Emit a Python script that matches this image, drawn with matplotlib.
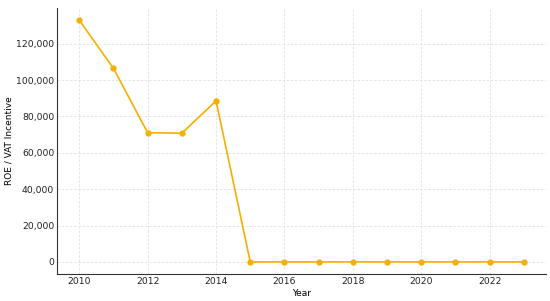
import matplotlib
matplotlib.use("Agg")
import matplotlib.pyplot as plt
from matplotlib.ticker import FuncFormatter

years = [2010, 2011, 2012, 2013, 2014, 2015, 2016, 2017, 2018, 2019, 2020, 2021, 2022, 2023]
values = [133000, 106500, 71100, 70800, 88600, 0, 0, 0, 0, 0, 0, 0, 0, 0]

fig = plt.figure(figsize=(5.5, 3.01), dpi=100)
ax = fig.add_axes([0.1036, 0.0897, 0.8894, 0.8836])
ax.plot(years, values, color='#F5B000', marker='o', markersize=3.5, linewidth=1.2)
ax.grid(True, linestyle=(0, (3, 2)), color='#e2e2e2', linewidth=0.6)
ax.set_axisbelow(True)
for s in ['top', 'right']:
    ax.spines[s].set_visible(False)
for s in ['left', 'bottom']:
    ax.spines[s].set_color('#333333')
ax.tick_params(length=0, labelsize=6.7, colors='#222222', pad=2)
ax.yaxis.set_major_formatter(FuncFormatter(lambda v, p: f"{int(v):,}"))
ax.set_xticks([2010, 2012, 2014, 2016, 2018, 2020, 2022])
ax.set_xlabel('Year', fontsize=6.5, labelpad=2)
ax.set_ylabel('ROE / VAT Incentive', fontsize=6.5)
ax.yaxis.set_label_coords(-0.088, 0.5)
fig.savefig('out.png', dpi=100)
